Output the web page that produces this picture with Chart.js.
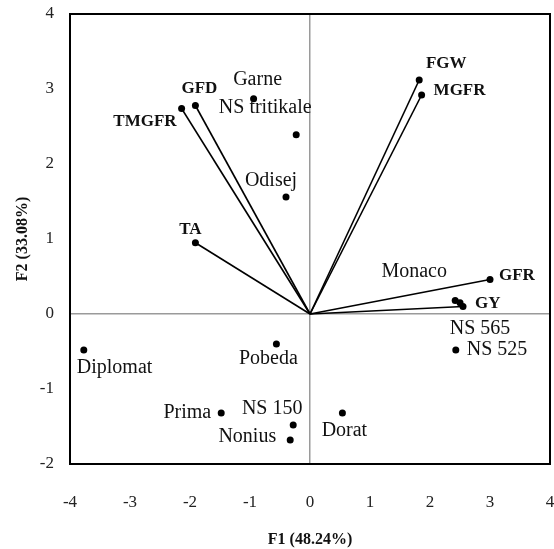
<!DOCTYPE html>
<html>
<head>
<meta charset="utf-8">
<script src="https://cdn.jsdelivr.net/npm/chart.js@4"></script>
<style>
  html, body { margin: 0; padding: 0; background: #fff; }
  #wrap { width: 554px; height: 549px; }
</style>
</head>
<body>
<div id="wrap"><canvas id="chart" width="554" height="549"></canvas></div>
<script>
// genotypes (observations)
const genotypes = ["Garne", "NS tritikale", "Odisej", "Monaco", "NS 565", "NS 525", "Pobeda", "Diplomat", "Prima", "NS 150", "Nonius", "Dorat"];
const genoF1 = [-0.94, -0.23, -0.40, 2.42, 2.50, 2.43, -0.56, -3.77, -1.48, -0.28, -0.33, 0.54];
const genoF2 = [2.87, 2.39, 1.56, 0.18, 0.15, -0.48, -0.40, -0.48, -1.32, -1.48, -1.68, -1.32];

// traits (variables, drawn as vectors from origin)
const traits = ["GFD", "TMGFR", "TA", "FGW", "MGFR", "GFR", "GY"];
const traitF1 = [-1.91, -2.14, -1.91, 1.82, 1.86, 3.00, 2.55];
const traitF2 = [2.78, 2.74, 0.95, 3.12, 2.92, 0.46, 0.10];

// axis ticks
const xTicks = [-4, -3, -2, -1, 0, 1, 2, 3, 4];
const yTicks = [-2, -1, 0, 1, 2, 3, 4];

// label placement (pixel offsets, align)
const labelPos = {
    "Garne": [4, -19, "center"],
    "NS tritikale": [-31, -27, "center"],
    "Odisej": [-15, -16, "center"],
    "Monaco": [-41, -29, "center"],
    "NS 565": [20, 26, "center"],
    "NS 525": [11, 0, "left"],
    "Pobeda": [-8, 15, "center"],
    "Diplomat": [-7, 18, "left"],
    "Prima": [-10, 0, "right"],
    "NS 150": [-21, -16, "center"],
    "Nonius": [-14, -3, "right"],
    "Dorat": [2, 18, "center"],
    "GFD": [4, -17, "center"],
    "TMGFR": [-5, 13, "right"],
    "TA": [-5, -13, "center"],
    "FGW": [27, -16, "center"],
    "MGFR": [12, -4, "left"],
    "GFR": [9, -4, "left"],
    "GY": [12, -3, "left"]
};

const serif = "'Liberation Serif', 'Times New Roman', serif";

let datasets = [];
// vectors
traits.forEach((t, i) => {
    datasets.push({
        label: t,
        type: "line",
        data: [{ x: 0, y: 0 }, { x: traitF1[i], y: traitF2[i] }],
        borderColor: "#000",
        borderWidth: 1.6,
        pointRadius: [0, 3.5],
        pointBackgroundColor: "#000",
        pointBorderWidth: 0,
        showLine: true,
        fill: false,
        tension: 0
    });
});
// genotype points
datasets.push({
    label: "genotypes",
    type: "scatter",
    data: genoF1.map((x, i) => ({ x: x, y: genoF2[i] })),
    pointRadius: 3.5,
    pointBackgroundColor: "#000",
    pointBorderWidth: 0
});

// text labels + box
const labelPlugin = {
    id: "labels",
    afterDatasetsDraw(chart) {
        const c = chart.ctx;
        const a = chart.chartArea;
        c.save();
        c.strokeStyle = "#000";
        c.lineWidth = 2;
        c.strokeRect(a.left, a.top, a.right - a.left, a.bottom - a.top);
        c.textBaseline = "middle";
        chart.data.datasets.forEach((ds, di) => {
            const meta = chart.getDatasetMeta(di);
            if (ds.label === "genotypes") {
                c.font = "20px " + serif;
                c.fillStyle = "#111";
                meta.data.forEach((pt, i) => {
                    const name = genotypes[i];
                    const p = labelPos[name];
                    c.textAlign = p[2];
                    c.fillText(name, pt.x + p[0], pt.y + p[1]);
                });
            } else {
                c.font = "bold 17px " + serif;
                c.fillStyle = "#111";
                const pt = meta.data[1];
                const p = labelPos[ds.label];
                c.textAlign = p[2];
                c.fillText(ds.label, pt.x + p[0], pt.y + p[1]);
            }
        });
        c.restore();
    }
};

const zeroGrid = (ctx) => ctx.tick && ctx.tick.value === 0 ? "#9a9a9a" : "rgba(0,0,0,0)";

const chart = new Chart(document.getElementById("chart").getContext("2d"), {
    type: "scatter",
    data: { datasets: datasets },
    options: {
        responsive: false,
        animation: false,
        layout: { padding: { top: 14, right: 3, left: 0, bottom: 0 } },
        plugins: {
            legend: { display: false },
            tooltip: { enabled: false }
        },
        scales: {
            x: {
                type: "linear",
                min: xTicks[0],
                max: xTicks[xTicks.length - 1],
                afterBuildTicks: (s) => { s.ticks = xTicks.map(v => ({ value: v })); },
                afterFit: (s) => { s.height = 85; s.paddingLeft = 0; s.paddingRight = 0; },
                grid: { color: zeroGrid, lineWidth: 1.5, drawTicks: false },
                border: { display: false },
                ticks: {
                    padding: 28,
                    color: "#222",
                    font: { family: serif, size: 17 }
                },
                title: {
                    display: true,
                    text: "F1 (48.24%)",
                    color: "#111",
                    font: { family: serif, size: 16, weight: "bold" },
                    padding: 0
                }
            },
            y: {
                type: "linear",
                min: yTicks[0],
                max: yTicks[yTicks.length - 1],
                afterBuildTicks: (s) => { s.ticks = yTicks.map(v => ({ value: v })); },
                afterFit: (s) => { s.width = 70; s.paddingTop = 0; s.paddingBottom = 0; },
                grid: { color: zeroGrid, lineWidth: 1.5, drawTicks: false },
                border: { display: false },
                ticks: {
                    padding: 16,
                    color: "#222",
                    font: { family: serif, size: 17 }
                },
                title: {
                    display: true,
                    text: "F2 (33.08%)",
                    color: "#111",
                    font: { family: serif, size: 16, weight: "bold" },
                    padding: { top: 13, bottom: 0 }
                }
            }
        }
    },
    plugins: [labelPlugin]
});
</script>
</body>
</html>
